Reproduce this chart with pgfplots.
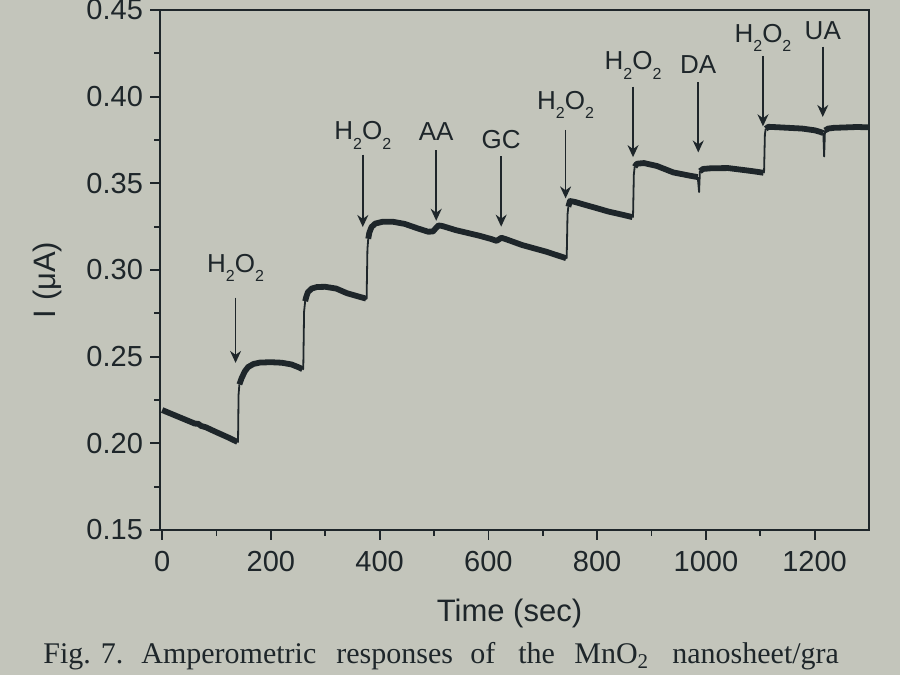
\documentclass[border=0pt]{standalone}
\usepackage{fontspec}
\setmainfont{Liberation Sans}
\newfontfamily\capfont{Liberation Serif}
\usepackage{pgfplots}
\pgfplotsset{compat=1.18}
\usetikzlibrary{arrows.meta}
\definecolor{ink}{RGB}{30,38,42}
\definecolor{paper}{RGB}{195,197,187}
\newcommand{\sub}[1]{\raisebox{-4.6pt}{\fontsize{8}{8}\selectfont #1}}
\newcommand{\hto}{H\sub{2}O\sub{2}}
\tikzset{
  seg/.style={ink, line width=2.9pt, line join=round},
  edge/.style={ink, line width=0.9pt, line join=round},
  ann/.style={anchor=base, inner sep=0pt, text=ink, font=\fontsize{13}{15}\selectfont},
  arr/.style={ink, line width=0.8pt, -{Stealth[length=6pt,width=5.5pt]}},
}
\begin{document}
\begin{tikzpicture}
\useasboundingbox (0,0) rectangle (450pt,337.5pt);
\clip (0,0) rectangle (450pt,337.5pt);
\fill[paper] (0,0) rectangle (450pt,337.5pt);
\begin{axis}[
  at={(80pt,72.5pt)}, anchor=south west,
  scale only axis, width=354.5pt, height=260pt,
  xmin=-4, xmax=1300, ymin=0.15, ymax=0.45,
  xtick={0,200,400,600,800,1000,1200}, minor x tick num=1,
  ytick={0.15,0.2,0.25,0.3,0.35,0.4,0.45}, minor y tick num=1,
  tick pos=left, tick align=outside,
  major tick length=5pt, minor tick length=3pt,
  axis line style={line width=1.1pt, ink},
  tick style={ink, line width=0.9pt},
  /pgf/number format/assume math mode=true,
  /pgf/number format/1000 sep={},
  yticklabel style={/pgf/number format/.cd, fixed, fixed zerofill, precision=2},
  tick label style={font=\fontsize{14.5}{16}\selectfont, text=ink},
  xticklabel style={yshift=-2pt},
  xlabel={Time (sec)},
  ylabel={I (μA)},
  xlabel style={at={(axis description cs:0.493,-0.1769)}, anchor=base, font=\fontsize{15.5}{18}\selectfont, text=ink},
  ylabel style={at={(axis description cs:-0.1467,0.481)}, anchor=base, font=\fontsize{15.5}{18}\selectfont, text=ink},
]
% baseline segment
\addplot[seg] coordinates {(0,0.2192) (20,0.2166) (40,0.2140) (60,0.2114) (66,0.2113) (72,0.2100) (80,0.2093) (100,0.2064) (120,0.2036) (138.5,0.2008)};
\addplot[edge] coordinates {(138.5,0.2005) (139.5,0.2010) (140.5,0.2280) (142,0.2340)};
\addplot[seg] coordinates {(142,0.2340) (146,0.2375) (152,0.2415) (158,0.2440) (168,0.2458) (180,0.2466) (200,0.2468) (220,0.2465) (238,0.2455) (250,0.2440) (258,0.2428)};
\addplot[edge] coordinates {(258,0.2425) (259.5,0.2430) (261,0.2760) (263,0.2820)};
\addplot[seg] coordinates {(263,0.2820) (265,0.2845) (268,0.2872) (275,0.2893) (285,0.2902) (300,0.2903) (320,0.2893) (340,0.2866) (360,0.2848) (375,0.2835)};
\addplot[edge] coordinates {(375,0.2832) (376,0.2835) (377.5,0.3120) (379,0.3180)};
\addplot[seg] coordinates {(379,0.3180) (381,0.3215) (385,0.3248) (392,0.3268) (405,0.3278) (425,0.3278) (446,0.3266) (470,0.3240) (489,0.3221) (498,0.3222) (503,0.3240) (508,0.3257) (515,0.3254) (540,0.3230) (583,0.3198) (606,0.3178) (615,0.3168) (624,0.3186) (632,0.3178) (662,0.3144) (706,0.3106) (743,0.3068)};
\addplot[edge] coordinates {(743,0.3066) (744,0.3070) (745.5,0.3320) (747,0.3365)};
\addplot[seg] coordinates {(747,0.3365) (750,0.3398) (760,0.3392) (773,0.3380) (800,0.3356) (821,0.3337) (845,0.3320) (865,0.3305)};
\addplot[edge] coordinates {(865,0.3303) (866,0.3308) (867.5,0.3550) (869,0.3595)};
\addplot[seg] coordinates {(869,0.3595) (873,0.3613) (886,0.3617) (910,0.3600) (940,0.3563) (969,0.3545) (985,0.3536)};
\addplot[edge] coordinates {(985,0.3536) (987.5,0.3450) (989,0.3570)};
\addplot[seg] coordinates {(989,0.3570) (995,0.3583) (1010,0.3587) (1041,0.3588) (1084,0.3571) (1106,0.3561)};
\addplot[edge] coordinates {(1106,0.3560) (1107,0.3565) (1108.5,0.3780) (1110,0.3815)};
\addplot[seg] coordinates {(1110,0.3815) (1115,0.3826) (1129,0.3824) (1177,0.3816) (1200,0.3806) (1210,0.3797) (1216,0.3790)};
\addplot[edge] coordinates {(1216,0.3790) (1217.5,0.3655) (1219,0.3805)};
\addplot[seg] coordinates {(1219,0.3805) (1225,0.3816) (1235,0.3820) (1278,0.3825) (1300,0.3823)};
% annotations
\node[ann] at (axis cs:135,0.2984) {\hto};
\draw[arr] (axis cs:135,0.2841) -- (axis cs:135,0.2464);
\node[ann] at (axis cs:369,0.3751) {\hto};
\draw[arr] (axis cs:369,0.3665) -- (axis cs:369,0.3248);
\node[ann] at (axis cs:504,0.3748) {AA};
\draw[arr] (axis cs:504,0.3690) -- (axis cs:504,0.3284);
\node[ann] at (axis cs:623.5,0.3702) {GC};
\draw[arr] (axis cs:623.5,0.3657) -- (axis cs:623.5,0.3250);
\node[ann] at (axis cs:742,0.3925) {\hto};
\draw[arr] (axis cs:742,0.3809) -- (axis cs:742,0.3413);
\node[ann] at (axis cs:866,0.4154) {\hto};
\draw[arr] (axis cs:866,0.4058) -- (axis cs:866,0.3651);
\node[ann] at (axis cs:986,0.4136) {DA};
\draw[arr] (axis cs:986,0.4084) -- (axis cs:986,0.3678);
\node[ann] at (axis cs:1105,0.4312) {\hto};
\draw[arr] (axis cs:1105,0.4235) -- (axis cs:1105,0.3829);
\node[ann] at (axis cs:1215,0.4328) {UA};
\draw[arr] (axis cs:1215,0.4289) -- (axis cs:1215,0.3883);
\end{axis}
\begin{scope}[every node/.style={anchor=base west, inner sep=0pt, text=ink, font=\capfont\fontsize{15}{18}\selectfont}]
\node at (21.5pt,5.5pt) {Fig. 7.};
\node at (70.5pt,5.5pt) {Amperometric};
\node at (168pt,5.5pt) {responses};
\node at (235pt,5.5pt) {of};
\node at (259pt,5.5pt) {the};
\node at (287pt,5.5pt) {MnO\textsubscript{2}};
\node at (336pt,5.5pt) {nanosheet/gra};
\end{scope}
\end{tikzpicture}
\end{document}
